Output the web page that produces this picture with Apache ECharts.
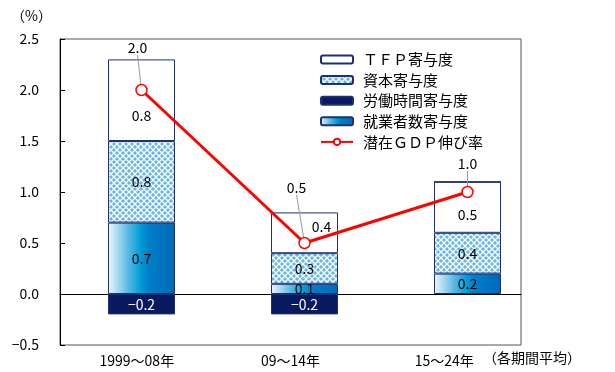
<!DOCTYPE html>
<html><head><meta charset="utf-8">
<script src="https://cdn.jsdelivr.net/npm/echarts@6/dist/echarts.min.js"></script>
<style>html,body{margin:0;padding:0;background:#fff}#c{width:615px;height:372px}</style>
</head><body><div id="c"></div>
<script>
const categories = ['1999～08年', '09～14年', '15～24年'];
const tfp = [0.8, 0.4, 0.5];
const capital = [0.8, 0.3, 0.4];
const hours = [-0.2, -0.2, 0];
const workers = [0.7, 0.1, 0.2];
const potential = [2.0, 0.5, 1.0];
const yTicks = { min: -0.5, max: 2.5, interval: 0.5 };

const FONT = '"Noto Sans CJK JP", sans-serif';
function makePattern() {
  const c = document.createElement('canvas');
  c.width = 6; c.height = 6;
  const g = c.getContext('2d');
  g.fillStyle = '#62b6ec'; g.fillRect(0, 0, 6, 6);
  g.strokeStyle = '#ffffff'; g.lineWidth = 1.3;
  g.beginPath(); g.moveTo(3, 0); g.lineTo(6, 3); g.lineTo(3, 6); g.lineTo(0, 3); g.closePath(); g.stroke();
  return c;
}
const fmt = v => (v < 0 ? '−' : '') + Math.abs(v).toFixed(1);
const border = '#1f2f70';
const chart = echarts.init(document.getElementById('c'));
const barLabel = (color) => ({
  show: true, color: color, fontSize: 14, fontFamily: FONT,
  formatter: p => p.value === 0 ? '' : fmt(p.value)
});
function withOffsets(arr, offsets) {
  return arr.map((v, i) => offsets && offsets[i] ? { value: v, label: { offset: offsets[i] } } : v);
}
const lineLabelShift = [[-4, -24], [-8, -37], [0, -10]];

chart.setOption({
  animation: false,
  textStyle: { fontFamily: FONT },
  title: [
    { text: '（%）', left: 6, top: 4, textStyle: { fontSize: 14, fontWeight: 'normal', color: '#000', fontFamily: FONT } },
    { text: '（各期間平均）', left: 478, top: 346, textStyle: { fontSize: 14, fontWeight: 'normal', color: '#000', fontFamily: FONT } }
  ],
  legend: {
    orient: 'vertical', left: 315, top: 47, itemWidth: 32, itemHeight: 8, itemGap: 5.6,
    textStyle: { fontSize: 15, color: '#000', fontFamily: FONT, padding: [0, 0, 0, 5] },
    data: ['ＴＦＰ寄与度', '資本寄与度', '労働時間寄与度', '就業者数寄与度', '潜在ＧＤＰ伸び率']
  },
  grid: [
    { left: 60, top: 39, width: 489, height: 306 },
    { left: 60, top: 39, width: 461, height: 306, show: true, borderColor: '#555', borderWidth: 1, backgroundColor: 'transparent' }
  ],
  xAxis: [
    { type: 'category', gridIndex: 0, data: categories, show: false },
    { type: 'category', gridIndex: 1, data: categories,
      axisLine: { onZero: true, lineStyle: { color: '#000', width: 1 } }, axisTick: { show: false },
      axisLabel: { color: '#000', fontSize: 14, fontFamily: FONT, margin: 9, show: true },
      position: 'bottom' }
  ],
  yAxis: [
    { type: 'value', gridIndex: 0, min: yTicks.min, max: yTicks.max, interval: yTicks.interval, show: false, splitLine: { show: false } },
    { type: 'value', gridIndex: 1, min: yTicks.min, max: yTicks.max, interval: yTicks.interval,
      axisLine: { show: true, lineStyle: { color: '#000' } },
      axisTick: { show: true, inside: true, length: 5, lineStyle: { color: '#000' } },
      splitLine: { show: false },
      axisLabel: { color: '#000', fontSize: 14, fontFamily: FONT, margin: 21, formatter: v => fmt(v) } }
  ],
  series: [
    { name: '就業者数寄与度', type: 'bar', stack: 's', barWidth: 67, xAxisIndex: 0, yAxisIndex: 0,
      data: workers,
      itemStyle: { borderColor: border, borderWidth: 1,
        color: new echarts.graphic.LinearGradient(0, 0, 1, 0, [
          { offset: 0, color: '#eef7fc' }, { offset: 0.3, color: '#5ab8e4' }, { offset: 0.48, color: '#00a0d8' },
          { offset: 0.6, color: '#0080c8' }, { offset: 1, color: '#0068b8' }]) },
      label: barLabel('#000') },
    { name: '資本寄与度', type: 'bar', stack: 's', barWidth: 67, xAxisIndex: 0, yAxisIndex: 0,
      data: capital,
      itemStyle: { borderColor: border, borderWidth: 1, color: { image: makePattern(), repeat: 'repeat' } },
      label: barLabel('#000') },
    { name: 'ＴＦＰ寄与度', type: 'bar', stack: 's', barWidth: 67, xAxisIndex: 0, yAxisIndex: 0,
      data: withOffsets(tfp, [[0, 15], [17, -6], [0, 7]]),
      itemStyle: { borderColor: border, borderWidth: 1, color: '#ffffff' },
      label: barLabel('#000') },
    { name: '労働時間寄与度', type: 'bar', stack: 's', barWidth: 67, xAxisIndex: 0, yAxisIndex: 0,
      data: hours,
      itemStyle: { borderColor: border, borderWidth: 1, color: '#0a1a60' },
      label: barLabel('#fff') },
    { name: '潜在ＧＤＰ伸び率', type: 'line', xAxisIndex: 0, yAxisIndex: 0, z: 5,
      data: potential, symbol: 'circle', symbolSize: 11,
      lineStyle: { color: '#ff0000', width: 3 },
      itemStyle: { color: '#ffffff', borderColor: '#ff0000', borderWidth: 1.5 },
      label: { show: true, position: 'top', fontSize: 14, color: '#000', fontFamily: FONT, formatter: p => fmt(p.value) },
      labelLine: { show: true, lineStyle: { color: '#999', width: 1 } },
      labelLayout: p => ({ dx: lineLabelShift[p.dataIndex][0], dy: lineLabelShift[p.dataIndex][1] }) }
  ]
});
</script></body></html>
